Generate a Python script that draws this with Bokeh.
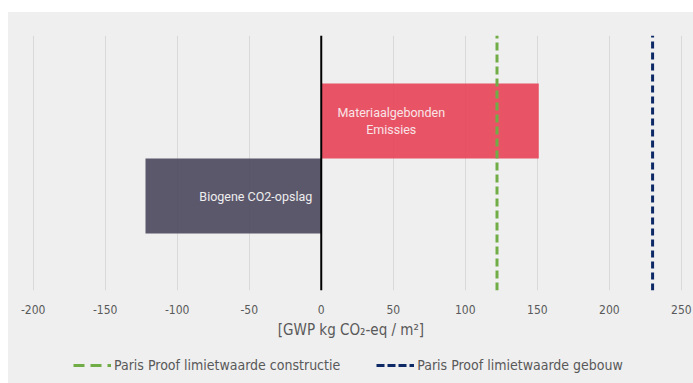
from bokeh.plotting import figure
from bokeh.layouts import column
from bokeh.models import (Range1d, FixedTicker, Span, Legend, LegendItem,
                          ColumnDataSource)
from bokeh.core.properties import value
from bokeh.embed import file_html
from bokeh.resources import INLINE

# --- data ---
categories = ["Biogene CO2-opslag", "Materiaalgebonden\nEmissies"]
bar_values = [-122, 151]
bar_colors = ["#4f4b61", "#e7465a"]
limit_names = ["Paris Proof limietwaarde constructie",
               "Paris Proof limietwaarde gebouw"]
limit_values = [122, 230]
limit_colors = ["#70ad47", "#0d2a66"]
limit_dashes = ["8 4", "7 4"]
legend_dashes = ["11 6", "8 3"]
x_ticks = [-200, -150, -100, -50, 0, 50, 100, 150, 200, 250]

BG = "#efefef"
AXIS_FONT = "DejaVu Sans Condensed, Liberation Sans Narrow, Liberation Sans, sans-serif"

y_pos = [1, 2]
y_start, y_end = -0.26, 3.14

p = figure(width=685, height=333,
           x_range=Range1d(-217.1, 258.4), y_range=Range1d(y_start, y_end),
           output_backend="svg", toolbar_location=None,
           min_border_left=0, min_border_right=0, min_border_top=23,
           min_border_bottom=55)
p.background_fill_color = BG
p.border_fill_color = BG
p.outline_line_color = None

# bars from zero to each value
src = ColumnDataSource(dict(y=y_pos, right=bar_values, color=bar_colors))
p.hbar(y="y", left=0, right="right", height=1.0, fill_color="color",
       fill_alpha=0.92, line_color=None, source=src)

# bar labels
p.text(x=[0], y=[y_pos[0]], text=[categories[0]], text_align="right",
       text_baseline="middle", x_offset=-9, text_color="#eeeeee",
       text_font=value("Roboto"), text_font_size="12.5px")
p.text(x=[0], y=[y_pos[1]], text=[categories[1]], text_align="center",
       text_baseline="middle", x_offset=70, text_color="#f8e4e7",
       text_font=value("Roboto"), text_font_size="12.5px",
       text_line_height=1.15)

# zero line
p.add_layout(Span(location=0, dimension="height", line_color="black",
                  line_width=2))

# limit lines spanning the full height of the plot area
for v, c, d in zip(limit_values, limit_colors, limit_dashes):
    p.segment(x0=[v], x1=[v], y0=[y_start], y1=[y_end], line_color=c,
              line_width=3, line_dash=d)

# axes and grid
p.yaxis.visible = False
p.ygrid.visible = False
p.xgrid.grid_line_color = "#d9d9d9"
p.xgrid.grid_line_width = 1
ax = p.xaxis[0]
ax.ticker = FixedTicker(ticks=x_ticks)
ax.major_label_overrides = {t: str(t) for t in x_ticks}
ax.axis_line_color = None
ax.major_tick_line_color = None
ax.minor_tick_line_color = None
ax.major_label_text_font = AXIS_FONT
ax.major_label_text_font_size = "12px"
ax.major_label_text_color = "#595959"
ax.major_label_standoff = 8
ax.axis_label = "[GWP kg CO\u2082-eq / m\u00b2]"
ax.axis_label_text_font = AXIS_FONT
ax.axis_label_text_font_size = "15px"
ax.axis_label_text_font_style = "normal"
ax.axis_label_text_color = "#595959"
ax.axis_label_standoff = 4

# legend strip below the chart; its sample lines sit outside the visible range
lg = figure(width=685, height=38, x_range=Range1d(0, 1), y_range=Range1d(0, 1),
            output_backend="svg", toolbar_location=None,
            min_border=0, min_border_left=0, min_border_right=0,
            min_border_top=0, min_border_bottom=0)
lg.background_fill_color = BG
lg.border_fill_color = BG
lg.outline_line_color = None
lg.axis.visible = False
lg.grid.visible = False
items = []
for name, c, d in zip(limit_names, limit_colors, legend_dashes):
    r = lg.line(x=[-2, -1], y=[-2, -2], line_color=c, line_width=3,
                line_dash=d)
    items.append(LegendItem(label=name, renderers=[r]))
legend = Legend(items=items, orientation="horizontal", location=(65, 10),
                background_fill_alpha=0, border_line_color=None,
                label_text_font=AXIS_FONT, label_text_font_size="14px",
                label_text_color="#595959", glyph_width=38, glyph_height=12,
                label_standoff=3, spacing=36, padding=4, margin=0)
lg.add_layout(legend, "center")

layout = column(p, lg, spacing=0, margin=(12, 0, 0, 8),
                styles={"background-color": BG})

with open("out.html", "w") as f:
    f.write(file_html(layout, INLINE))
